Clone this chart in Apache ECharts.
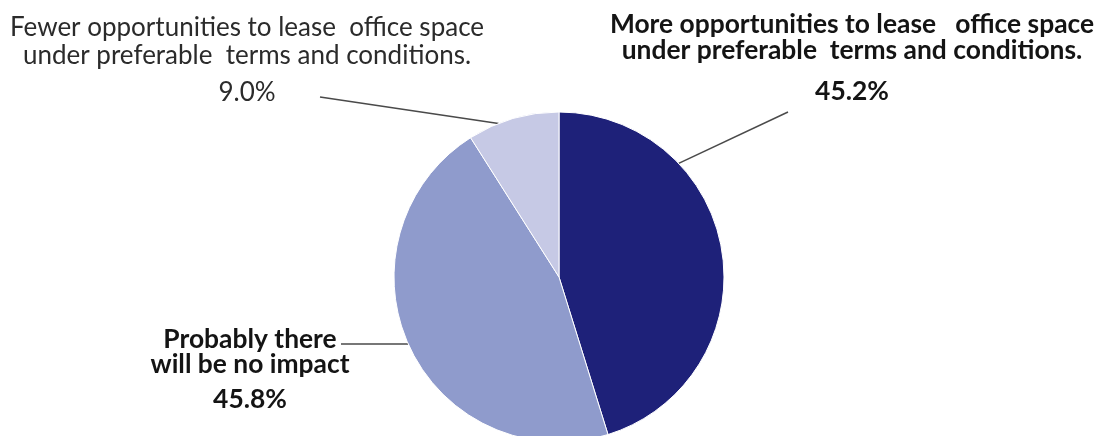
<!DOCTYPE html>
<html>
<head>
<meta charset="utf-8">
<script src="https://cdn.jsdelivr.net/npm/echarts@6/dist/echarts.min.js"></script>
<style>
  html, body { margin: 0; padding: 0; background: #fff; }
  #chart { width: 1101px; height: 436px; }
</style>
</head>
<body>
<div id="chart"></div>
<script>
// Survey answers, clockwise from 12 o'clock
const categories = [
  'More opportunities to lease   office space\nunder preferable  terms and conditions.',
  'Probably there\nwill be no impact',
  'Fewer opportunities to lease  office space\nunder preferable  terms and conditions.'
];
const shares = [45.2, 45.8, 9.0];
const sliceColors = ['#1e2179', '#8f9bcc', '#c6c9e5'];

const CENTER = [559, 277];
const RADIUS = 165;

// label placement: anchor of the text block, rich-text style key, angle
// (deg from top, clockwise) where the leader meets the rim, free end of leader
const labelPlacement = [
  { x: 852, y: 11,  style: 'a', rimAngle: 46.5,  lineEnd: [788, 112] },
  { x: 250, y: 327, style: 'c', rimAngle: 246,   lineEnd: [341, 344] },
  { x: 247, y: 14,  style: 'r', rimAngle: 338.5, lineEnd: [320, 97] }
];

function rimPoint(deg) {
  const a = deg * Math.PI / 180;
  return [CENTER[0] + RADIUS * Math.sin(a), CENTER[1] - RADIUS * Math.cos(a)];
}

const FONT = 'Lato';
function txt(size, weight, color, lineHeight) {
  return { fontFamily: FONT, fontSize: size, fontWeight: weight, color: color, lineHeight: lineHeight, align: 'center' };
}

const chart = echarts.init(document.getElementById('chart'), null, { renderer: 'canvas' });
chart.setOption({
  animation: false,
  series: [{
    type: 'pie',
    center: CENTER,
    radius: RADIUS,
    startAngle: 90,
    clockwise: true,
    avoidLabelOverlap: false,
    data: categories.map((name, i) => ({
      name: name,
      value: shares[i],
      itemStyle: { color: sliceColors[i] }
    })),
    itemStyle: { borderColor: '#ffffff', borderWidth: 1 },
    label: {
      show: true,
      position: 'outside',
      formatter: function (p) {
        const s = labelPlacement[p.dataIndex].style;
        const lines = p.name.split('\n').map(t => '{' + s + '|' + t + '}');
        lines.push('{' + s + 'p|' + p.value.toFixed(1) + '%}');
        return lines.join('\n');
      },
      rich: {
        r:  txt(26, 'normal', '#2b2b2b', 28),
        rp: txt(26, 'normal', '#2b2b2b', 46),
        a:  txt(26.4, 'bold', '#141414', 26),
        ap: txt(26.4, 'bold', '#141414', 56),
        c:  txt(26.4, 'bold', '#141414', 25),
        cp: txt(26.4, 'bold', '#141414', 45)
      }
    },
    labelLine: {
      show: true,
      lineStyle: { color: '#4a4a4a', width: 1.5 }
    },
    labelLayout: function (params) {
      const cfg = labelPlacement[params.dataIndex];
      return {
        x: cfg.x,
        y: cfg.y,
        align: 'center',
        verticalAlign: 'top',
        labelLinePoints: [rimPoint(cfg.rimAngle), cfg.lineEnd, cfg.lineEnd]
      };
    }
  }]
});
</script>
</body>
</html>
